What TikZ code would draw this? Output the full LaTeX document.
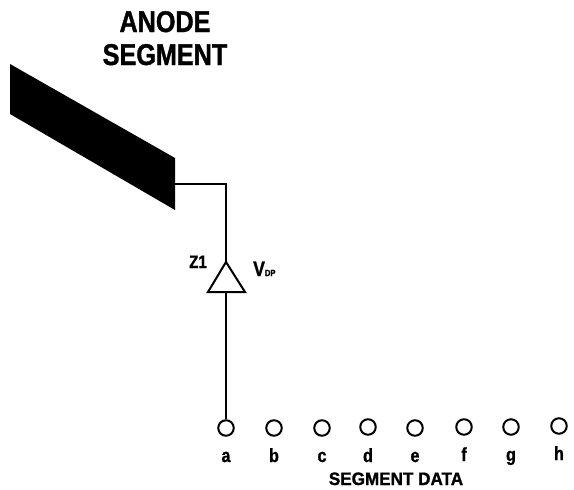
\documentclass[tikz,border=0pt]{standalone}
\usepackage{fontspec}
\setmainfont{Liberation Sans}
\newfontfamily\condfont[FakeStretch=0.84,BoldFont={Liberation Sans Bold},BoldFeatures={FakeStretch=0.84,FakeBold=1.2}]{Liberation Sans}
\newfontfamily\widefont[FakeStretch=0.95,BoldFont={Liberation Sans Bold},BoldFeatures={FakeStretch=0.95,FakeBold=1.2}]{Liberation Sans}
\newcommand{\cz}[1]{\condfont\bfseries\fontsize{#1}{#1}\selectfont}
\tikzset{
  wire/.style={draw=black,line width=1.5pt},
  pad/.style={circle,draw=black,line width=2pt,minimum size=15.5pt,inner sep=0pt},
  lab/.style={font=\cz{19},text=black,inner sep=0pt,anchor=base},
  title/.style={font=\cz{30},text=black,inner sep=0pt,anchor=base},
}
\begin{document}
\begin{tikzpicture}[x=1pt,y=-1pt]
\useasboundingbox (0,0) rectangle (574,490);
\fill[white] (0,0) rectangle (574,490);
\node[title] (anode) at (165,32) {ANODE};
\node[title] (segment) at (165,65) {SEGMENT};
\fill[black] (10,64) -- (175,158) -- (175,210) -- (10,114) -- cycle;
\coordinate (segend) at (175,184);
\coordinate (apex) at (226,262);
\coordinate (basel) at (208,292);
\coordinate (baser) at (245,292);
\coordinate (basem) at (226,292);
\node[pad] (a) at (226,428) {};
\node[pad] (b) at (274,428) {};
\node[pad] (c) at (322,428) {};
\node[pad] (d) at (368,427) {};
\node[pad] (e) at (415,428) {};
\node[pad] (f) at (464,427) {};
\node[pad] (g) at (511,427) {};
\node[pad] (h) at (559,426) {};
\draw[wire] (segend) -| (apex);
\draw[wire,line width=2pt,line join=miter] (apex) -- (baser) -- (basel) -- cycle;
\draw[wire] (basem) -- (a.north);
\node[font=\cz{18},inner sep=0pt,anchor=base] (z1) at (198,268) {Z1};
\node[inner sep=0pt,anchor=base west] (vdp) at (253,276) {\cz{21}V\cz{9}DP};
\node[lab] (la) at (226,462) {a};
\node[lab] (lb) at (274,462) {b};
\node[lab] (lc) at (322,462) {c};
\node[lab] (ld) at (368,462) {d};
\node[lab] (le) at (415,462) {e};
\node[lab] (lf) at (464,461) {f};
\node[lab] (lg) at (511,461) {g};
\node[lab] (lh) at (559,460) {h};
\node[font=\widefont\bfseries\fontsize{18}{18}\selectfont,inner sep=0pt,anchor=base] (data) at (396,485) {SEGMENT DATA};
\end{tikzpicture}
\end{document}
